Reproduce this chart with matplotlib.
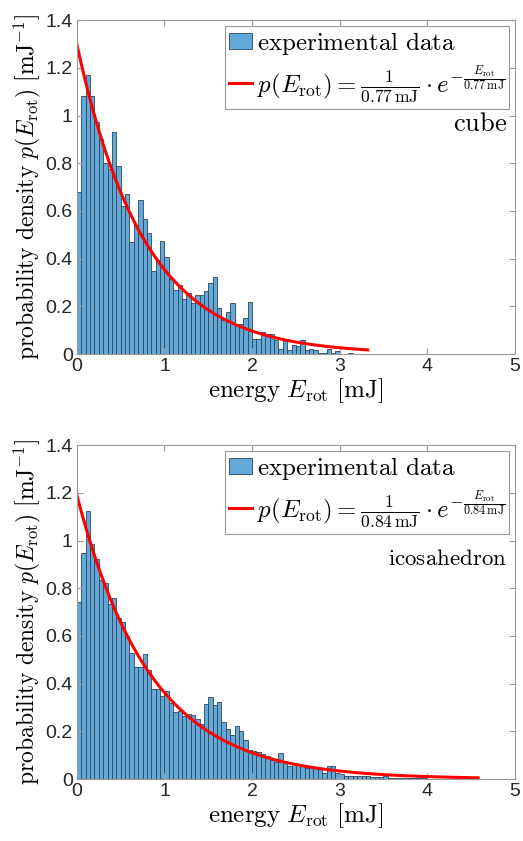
import numpy as np
import matplotlib.pyplot as plt

plt.rcParams['mathtext.fontset'] = 'cm'

bin_width = 0.05

# histogram heights (probability density), bins of 0.05 mJ starting at 0
cube_density = [
    0.678, 1.084, 1.169, 1.084, 0.972, 0.90, 0.80, 0.775, 0.93, 0.79,
    0.62, 0.67, 0.47, 0.54, 0.644, 0.566, 0.507, 0.35, 0.396, 0.472,
    0.409, 0.316, 0.267, 0.29, 0.231, 0.258, 0.214, 0.246, 0.246, 0.264,
    0.30, 0.323, 0.194, 0.144, 0.177, 0.214, 0.126, 0.124, 0.152, 0.22,
    0.065, 0.065, 0.092, 0.083, 0.083, 0.06, 0.022, 0.053, 0.015, 0.04,
    0.033, 0.06, 0.015, 0.023, 0.018, 0.006, 0.006, 0.022, 0.005, 0.013,
    0.0, 0.0, 0.005,
]
ico_density = [
    0.744, 0.947, 1.123, 0.986, 0.922, 0.835, 0.82, 0.733, 0.757, 0.677,
    0.658, 0.598, 0.528, 0.468, 0.469, 0.524, 0.458, 0.378, 0.378, 0.348,
    0.369, 0.318, 0.281, 0.286, 0.264, 0.272, 0.267, 0.253, 0.23, 0.316,
    0.344, 0.31, 0.324, 0.239, 0.21, 0.183, 0.223, 0.2, 0.165, 0.123,
    0.119, 0.112, 0.103, 0.095, 0.078, 0.07, 0.108, 0.075, 0.053, 0.067,
    0.06, 0.06, 0.046, 0.053, 0.046, 0.042, 0.025, 0.053, 0.053, 0.025,
    0.021, 0.011, 0.011, 0.011, 0.014, 0.011, 0.014, 0.007, 0.007, 0.007,
    0.011, 0.005, 0.005, 0.004, 0.004, 0.003, 0.006, 0.005, 0.004, 0.003,
]

# fitted mean energies (mJ) and the range the fit is drawn over
cube_mean = 0.77
ico_mean = 0.84
cube_fit_max = 3.32
ico_fit_max = 4.58

bar_color = '#62a8d8'
edge_color = '#2e4556'
spine_color = '#9a9a9a'

fig = plt.figure(figsize=(5.23, 8.41), dpi=100)
ax1 = fig.add_axes([0.147, 0.579, 0.8375, 0.397])
ax2 = fig.add_axes([0.147, 0.0737, 0.8375, 0.397])


def draw(ax, density, mean, fit_max):
    density = np.array(density)
    left = np.arange(len(density)) * bin_width
    bars = ax.bar(left, density, width=bin_width, align='edge', color=bar_color,
                  edgecolor=edge_color, linewidth=0.6)
    e = np.linspace(0, fit_max, 300)
    m = f'{mean:.2f}'
    line, = ax.plot(e, np.exp(-e / mean) / mean, color='red', linewidth=2.2)

    ax.set_xlim(0, 5)
    ax.set_ylim(0, 1.4)
    ax.set_xticks(range(6))
    ax.set_yticks([0, 0.2, 0.4, 0.6, 0.8, 1, 1.2, 1.4])
    ax.set_yticklabels(['0', '0.2', '0.4', '0.6', '0.8', '1', '1.2', '1.4'])
    ax.tick_params(direction='in', top=True, right=True, length=4,
                   color=spine_color, labelsize=14, labelcolor='#262626', pad=3)
    for lab in ax.get_xticklabels() + ax.get_yticklabels():
        lab.set_family('Liberation Sans')
    for s in ax.spines.values():
        s.set_color(spine_color)

    ax.set_xlabel(r'$\mathrm{energy}\ E_\mathrm{rot}\ [\mathrm{mJ}]$', fontsize=18, labelpad=1)
    ax.set_ylabel(r'$\mathrm{probability\ density}\ p(E_\mathrm{rot})\ [\mathrm{mJ}^{-1}]$',
                  fontsize=17, labelpad=2)

    labels = [r'$\mathrm{experimental\ data}$',
              r'$p(E_\mathrm{rot}) = \frac{1}{' + m + r'\,\mathrm{mJ}}\cdot e^{-\frac{E_\mathrm{rot}}{' + m + r'\,\mathrm{mJ}}}$']
    leg = ax.legend([bars, line], labels, loc='upper right', fontsize=18,
                    handlelength=0.9, handletextpad=0.2, handleheight=0.6,
                    borderaxespad=0.25, borderpad=0.15, labelspacing=0.25,
                    fancybox=False, framealpha=1, edgecolor=spine_color)
    leg.get_frame().set_linewidth(0.8)
    return ax


draw(ax1, cube_density, cube_mean, cube_fit_max)
draw(ax2, ico_density, ico_mean, ico_fit_max)

ax1.text(0.982, 0.69, r'$\mathrm{cube}$', transform=ax1.transAxes, ha='right', va='center', fontsize=19)
ax2.text(0.982, 0.66, r'$\mathrm{icosahedron}$', transform=ax2.transAxes, ha='right', va='center', fontsize=16.5)

fig.savefig('out.png', dpi=100)
